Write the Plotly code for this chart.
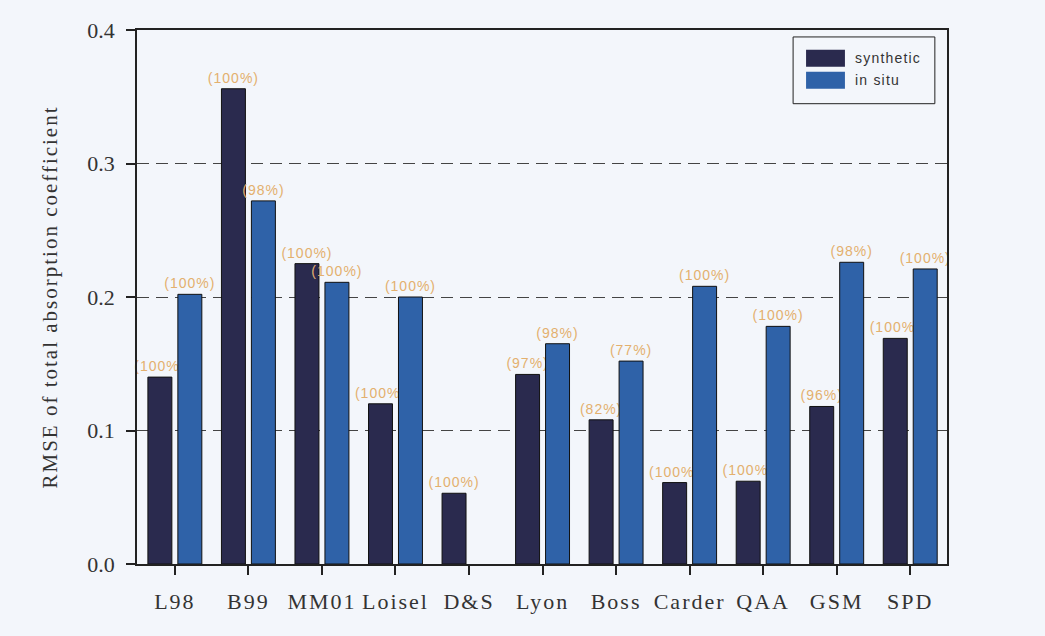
import plotly.graph_objects as go

categories = ["L98", "B99", "MM01", "Loisel", "D&S", "Lyon", "Boss", "Carder", "QAA", "GSM", "SPD"]
synthetic = [0.140, 0.356, 0.225, 0.120, 0.053, 0.142, 0.108, 0.061, 0.062, 0.118, 0.169]
in_situ = [0.202, 0.272, 0.211, 0.200, None, 0.165, 0.152, 0.208, 0.178, 0.226, 0.221]
synthetic_pct = ["(100%)", "(100%)", "(100%)", "(100%)", "(100%)", "(97%)", "(82%)", "(100%)", "(100%)", "(96%)", "(100%)"]
in_situ_pct = ["(100%)", "(98%)", "(100%)", "(100%)", "", "(98%)", "(77%)", "(100%)", "(100%)", "(98%)", "(100%)"]
y_ticks = [0.0, 0.1, 0.2, 0.3, 0.4]
y_tick_labels = ["0.0", "0.1", "0.2", "0.3", "0.4"]

SYN_COLOR = "#2a2a4e"
INSITU_COLOR = "#2f62a8"
LABEL_COLOR = "#e3b06e"
BG = "#f3f6fb"
SERIF = "Liberation Serif, Times New Roman, serif"
SANS = "Liberation Sans, Arial, sans-serif"


def spaced(s, px):
    if not s:
        return s
    return '<span style="letter-spacing:%spx">%s</span>' % (px, s.replace("&", "&amp;"))


x_idx = list(range(len(categories)))

fig = go.Figure()
for vals, pct, name, color in [(synthetic, synthetic_pct, "synthetic", SYN_COLOR),
                               (in_situ, in_situ_pct, "in situ", INSITU_COLOR)]:
    fig.add_trace(go.Bar(
        x=x_idx, y=vals, name=name,
        marker=dict(color=color, line=dict(color="#111111", width=1)),
        text=[spaced(t, 1) for t in pct], textposition="outside", constraintext="none",
        textfont=dict(color=LABEL_COLOR, size=14, family=SANS),
        cliponaxis=False, showlegend=False,
    ))

# custom legend (box, swatches, labels) in paper coordinates
fig.add_shape(type="rect", xref="paper", yref="paper", x0=0.81, x1=0.985, y0=0.862, y1=0.987,
              line=dict(color="#222222", width=1), fillcolor=BG, layer="above")
fig.add_shape(type="rect", xref="paper", yref="paper", x0=0.826, x1=0.874, y0=0.931, y1=0.963,
              line=dict(width=0), fillcolor=SYN_COLOR, layer="above")
fig.add_shape(type="rect", xref="paper", yref="paper", x0=0.826, x1=0.874, y0=0.890, y1=0.922,
              line=dict(width=0), fillcolor=INSITU_COLOR, layer="above")
for label, yy in [("synthetic", 0.947), ("in situ", 0.906)]:
    fig.add_annotation(text=spaced(label, 1.2), xref="paper", yref="paper", x=0.884, y=yy,
                       xanchor="left", yanchor="middle", showarrow=False,
                       font=dict(family=SANS, size=14, color="#333333"))

fig.update_layout(
    width=1045, height=636,
    margin=dict(l=137, r=98, t=30, b=72),
    paper_bgcolor=BG, plot_bgcolor=BG,
    barmode="group", bargap=0.185, bargroupgap=0.2,
    showlegend=False,
    font=dict(family=SERIF, color="#333333"),
)
fig.update_xaxes(
    tickmode="array", tickvals=x_idx, ticktext=[spaced(c, 2) for c in categories],
    range=[-0.515, 10.5], showgrid=False, zeroline=False,
    showline=True, linecolor="#222222", linewidth=1.5, mirror=True,
    ticks="outside", ticklen=9, tickcolor="#222222", tickwidth=1.5,
    ticklabelstandoff=8,
    tickfont=dict(family=SERIF, size=22, color="#333333"),
)
fig.update_yaxes(
    range=[0, 0.4], tickmode="array", tickvals=y_ticks, ticktext=y_tick_labels,
    showgrid=True, gridcolor="#444444", gridwidth=1, griddash="12px,7px",
    zeroline=False,
    showline=True, linecolor="#222222", linewidth=1.5, mirror=True,
    ticks="outside", ticklen=9, tickcolor="#222222", tickwidth=1.5,
    ticklabelstandoff=7,
    tickfont=dict(family=SERIF, size=22, color="#333333"),
    title=dict(text=spaced("RMSE of total absorption coefficient", 2),
               font=dict(family=SERIF, size=21, color="#333333"), standoff=24),
)

fig.write_html(
    "out.html",
    config={"displayModeBar": False},
    post_script="document.body.style.margin='0';document.body.style.background='%s';" % BG,
)
